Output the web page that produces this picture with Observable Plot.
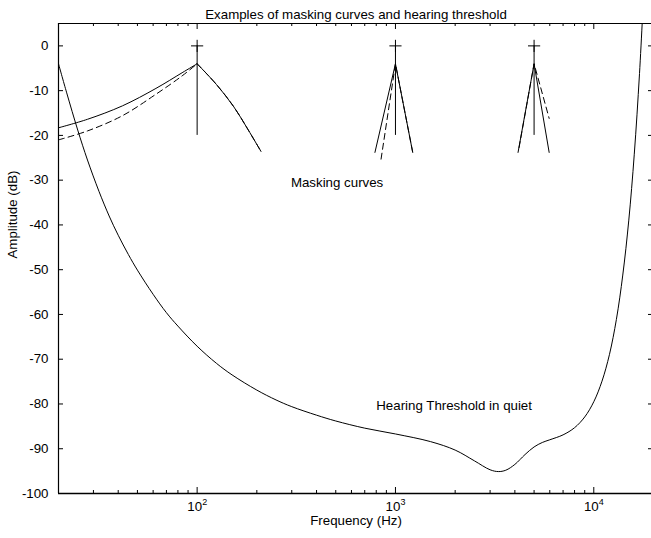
<!DOCTYPE html>
<html><head><meta charset="utf-8">
<script src="https://cdn.jsdelivr.net/npm/d3@7"></script>
<script src="https://cdn.jsdelivr.net/npm/@observablehq/plot@0.6"></script>
<style>body{margin:0;background:#fff} #chart svg{display:block;background:#fff}</style>
</head><body><div id="chart"></div>
<script>
// ---- data ----
const xDomain = [20, 20000];
const yDomain = [-100, 5];
const yTicks = [0, -10, -20, -30, -40, -50, -60, -70, -80, -90, -100];
const xMajor = [100, 1000, 10000];
const xExp = ["2", "3", "4"];
const xMinor = [30,40,50,60,70,80,90,200,300,400,500,600,700,800,900,2000,3000,4000,5000,6000,7000,8000,9000];

// Hearing threshold in quiet
const thrFreq = [20,22,25,28,32,36,40,45,50,60,70,80,100,125,150,200,250,300,400,500,700,1000,1500,2000,2500,3000,3300,3600,4000,4500,5000,5500,6000,7000,8000,9000,10000,11000,12000,13000,14000,15000,16000,17000,18000];
const thrDb   = [-4,-10.5,-18.8,-25.5,-32.5,-38,-42.3,-46.6,-50.1,-55.5,-59.6,-62.6,-67.1,-70.9,-73.5,-76.9,-79.1,-80.6,-82.5,-83.8,-85.4,-86.7,-88.4,-90.3,-92.7,-94.7,-95.1,-94.8,-93.5,-91.3,-89.6,-88.6,-88.0,-86.9,-85.3,-82.9,-79.5,-74.9,-68.9,-61.1,-51.2,-39.1,-24.2,-6.2,15];

// Maskers (stems with + markers)
const maskerF = [100, 1000, 5000];
const maskerDb = [0, 0, 0];
const stemBase = -20;

// Masking curves, solid
const m100LeftF = [20, 28, 42, 62, 84, 100];
const m100LeftDb = [-18.3, -16.4, -13.4, -9.5, -6.0, -4.0];
const m100RightF = [100, 125, 153, 180, 210];
const m100RightDb = [-4.0, -8.6, -13.6, -18.6, -23.6];
const m1kF = [788, 1000, 1222];
const m1kDb = [-23.8, -4.0, -23.8];
const m5kF = [4150, 5000, 5956];
const m5kDb = [-23.8, -4.0, -23.8];

// Masking curves, dashed
const d100LeftF = [20, 28, 42, 62, 84, 100];
const d100LeftDb = [-21.0, -19.0, -15.6, -10.8, -6.7, -4.0];
const d100RightF = [100, 125, 153, 180, 210];
const d100RightDb = [-4.0, -8.6, -13.6, -18.6, -23.6];
const d1kF = [846, 1000, 1222];
const d1kDb = [-25.3, -4.0, -23.8];
const d5kF = [4200, 5000, 5956];
const d5kDb = [-22.7, -4.0, -16.2];

const titleText = "Examples of masking curves and hearing threshold";
const xLabel = "Frequency (Hz)";
const yLabel = "Amplitude (dB)";
const annoText = ["Masking curves", "Hearing Threshold in quiet"];
const annoF = [297, 800];
const annoDb = [-30.5, -80.5];

// ---- build tables ----
const pts = (fs, ds, g) => fs.map((f, i) => ({f, db: ds[i], g}));
const threshold = pts(thrFreq, thrDb, "thr");
const solidCurved = [...pts(m100LeftF, m100LeftDb, "a"), ...pts(m100RightF, m100RightDb, "b")];
const solidStraight = [...pts(m1kF, m1kDb, "c"), ...pts(m5kF, m5kDb, "d")];
const dashedCurved = [...pts(d100LeftF, d100LeftDb, "a"), ...pts(d100RightF, d100RightDb, "b")];
const dashedStraight = [...pts(d1kF, d1kDb, "c"), ...pts(d5kF, d5kDb, "d")];
const annos = annoText.map((t, i) => ({t, f: annoF[i], db: annoDb[i]}));

const W = 651, H = 538, ML = 58, MR = -2, MT = 23, MB = 45;
const FW = W - ML - MR, FH = H - MT - MB;
const majorLen = 6, minorLen = 3, yTickLen = 5;
const FONT = "13.3px";

const chart = Plot.plot({
  width: W, height: H,
  marginLeft: ML, marginRight: MR, marginTop: MT, marginBottom: MB,
  style: {fontFamily: "'Liberation Sans', Arial, Helvetica, sans-serif", fontSize: FONT, background: "#fff", overflow: "visible"},
  x: {type: "log", domain: xDomain, axis: null},
  y: {domain: yDomain, axis: null},
  marks: [
    // curves
    Plot.line(threshold, {x: "f", y: "db", curve: "catmull-rom", stroke: "black", strokeWidth: 1, clip: true}),
    Plot.line(solidCurved, {x: "f", y: "db", z: "g", curve: "catmull-rom", stroke: "black", strokeWidth: 1}),
    Plot.line(solidStraight, {x: "f", y: "db", z: "g", stroke: "black", strokeWidth: 1}),
    Plot.line(dashedCurved, {x: "f", y: "db", z: "g", curve: "catmull-rom", stroke: "black", strokeWidth: 1, strokeDasharray: "6,4"}),
    Plot.line(dashedStraight, {x: "f", y: "db", z: "g", stroke: "black", strokeWidth: 1, strokeDasharray: "6,4"}),
    // stems and markers
    Plot.ruleX(maskerF, {x: d => d, y1: stemBase, y2: (d, i) => maskerDb[i], stroke: "black", strokeWidth: 1}),
    Plot.dot(maskerF, {x: d => d, y: (d, i) => maskerDb[i], symbol: "plus", stroke: "black", strokeWidth: 1, r: 4}),
    // frame
    Plot.ruleY([yDomain[0]], {stroke: "black", strokeWidth: 1.6}),
    Plot.ruleY([yDomain[1]], {stroke: "black", strokeWidth: 1.2}),
    Plot.ruleX([xDomain[0], xDomain[1]], {stroke: "black", strokeWidth: 1.2}),
    // inward ticks
    Plot.tickX(xMajor, {x: d => d, insetTop: FH - majorLen, stroke: "black"}),
    Plot.tickX(xMinor, {x: d => d, insetTop: FH - minorLen, stroke: "black"}),
    Plot.tickX(xMajor, {x: d => d, insetBottom: FH - majorLen, stroke: "black"}),
    Plot.tickX(xMinor, {x: d => d, insetBottom: FH - minorLen, stroke: "black"}),
    Plot.tickY(yTicks, {y: d => d, insetRight: FW - yTickLen, stroke: "black"}),
    Plot.tickY(yTicks, {y: d => d, insetLeft: FW - yTickLen, stroke: "black"}),
    // tick labels
    Plot.text(yTicks, {y: d => d, frameAnchor: "left", dx: -10, textAnchor: "end", text: d => String(d), fontSize: FONT}),
    Plot.text(xMajor, {x: d => d, frameAnchor: "bottom", dx: -2.5, dy: 17, text: () => "10", fontSize: FONT}),
    Plot.text(xMajor, {x: d => d, frameAnchor: "bottom", dx: 5, dy: 11, textAnchor: "start", text: (d, i) => xExp[i], fontSize: "9px"}),
    // labels
    Plot.text([titleText], {frameAnchor: "top", dy: -14, text: d => d, fontSize: FONT}),
    Plot.text([xLabel], {frameAnchor: "bottom", dy: 31, text: d => d, fontSize: FONT}),
    Plot.text([yLabel], {frameAnchor: "left", dx: -46, rotate: -90, text: d => d, fontSize: FONT}),
    Plot.text(annos, {x: "f", y: "db", text: "t", textAnchor: "start", fontSize: FONT})
  ]
});
document.getElementById("chart").appendChild(chart);
</script>
</body></html>
